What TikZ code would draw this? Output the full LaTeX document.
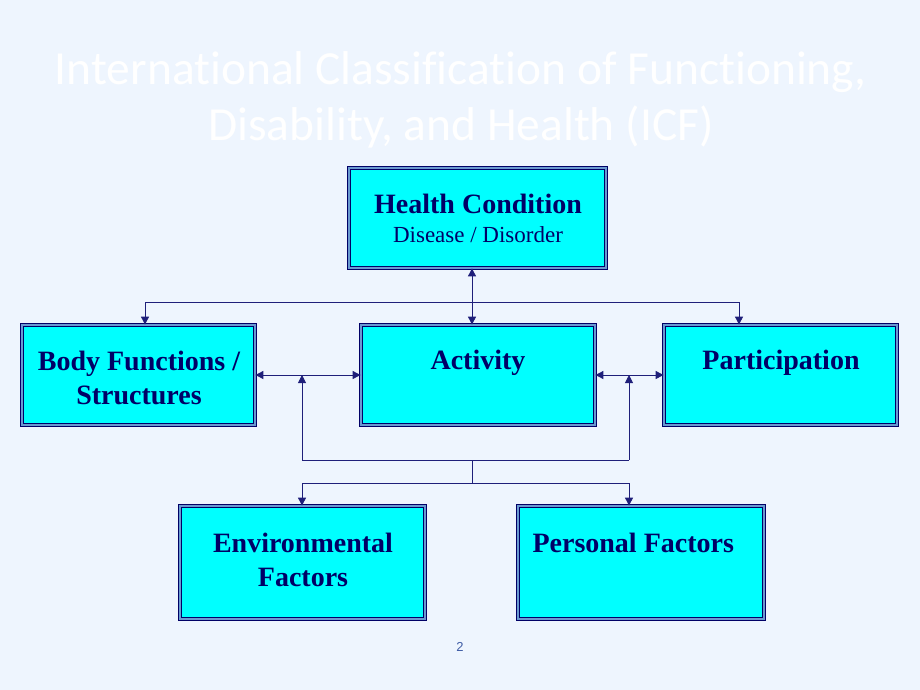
\documentclass[tikz,border=0pt]{standalone}
\usepackage{fontspec}
\setmainfont{Liberation Serif}
\newfontfamily\titlefont[Ligatures=NoCommon]{Carlito}
\newfontfamily\pagefont{Liberation Sans}
\usetikzlibrary{arrows.meta}

\definecolor{slidebg}{HTML}{EEF5FE}
\definecolor{boxfill}{HTML}{00FFFF}
\definecolor{navy}{HTML}{000066}
\definecolor{wire}{HTML}{1F1F7A}
\definecolor{rim}{HTML}{6A9AD0}

\tikzset{
  icfbox/.style={draw=navy, line width=0.8pt, double=rim, double distance=1.6pt,
    fill=boxfill, inner sep=0pt},
  icftext/.style={text=navy, font=\fontsize{28}{34}\selectfont\bfseries, align=center},
  wires/.style={draw=wire, line width=0.9pt},
  >={Triangle[length=8pt,width=8pt]}
}

\begin{document}
\begin{tikzpicture}[x=1pt,y=-1pt]
\useasboundingbox[fill=slidebg] (0,0) rectangle (920,690);

%% title
\node[anchor=base, text=white, font=\titlefont\fontsize{47.5}{56}\selectfont] (title1) at (461,85)
  {International Classification of Functioning,};
\node[anchor=base, text=white, font=\titlefont\fontsize{47.5}{56}\selectfont] (title2) at (461,140)
  {Disability, and Health (ICF)};

%% boxes
\node[icfbox, minimum width=257, minimum height=100] (hc) at (477.5,218) {};
\node[icfbox, minimum width=233, minimum height=100] (body) at (138.5,375) {};
\node[icfbox, minimum width=234, minimum height=100] (act) at (478,375) {};
\node[icfbox, minimum width=233, minimum height=100] (part) at (780.5,375) {};
\node[icfbox, minimum width=245, minimum height=113] (env) at (302.5,562.5) {};
\node[icfbox, minimum width=246, minimum height=113] (pers) at (641,562.5) {};

%% labels
\node[icftext] (hclabel) at (478,204) {Health Condition};
\node[text=navy, font=\fontsize{23}{28}\selectfont] (hcsub) at (478,235) {Disease / Disorder};
\node[icftext] (bodylabel) at (139,378) {Body Functions /\\Structures};
\node[icftext] (actlabel) at (478,363) {Activity};
\node[icftext] (partlabel) at (781,363) {Participation};
\node[icftext] (envlabel) at (303,560) {Environmental\\Factors};
\node[icftext, anchor=west] (perslabel) at (529,543) {Personal Factors};

%% connectors
\coordinate (hcdrop) at (472,302);
\coordinate (leftbus) at (145,302);
\coordinate (rightbus) at (739,302);
\draw[wires, <->] ([xshift=-5.5pt]hc.south) -- ([xshift=-6pt]act.north);
\draw[wires, ->] (hcdrop) -- (leftbus) -- (leftbus |- body.north);
\draw[wires, ->] (hcdrop) -- (rightbus) -- (rightbus |- part.north);

\draw[wires, <->] (body.east) -- (act.west);
\draw[wires, <->] (act.east) -- (part.west);

\coordinate (envup) at (302,460);
\coordinate (persup) at (629,460);
\coordinate (midbus) at (472,460);
\coordinate (lowbus) at (472,483);
\draw[wires, ->] (envup) -- (envup |- body.east);
\draw[wires, ->] (persup) -- (persup |- part.west);
\draw[wires] (envup) -- (persup);
\draw[wires] (midbus) -- (lowbus);
\draw[wires, ->] (lowbus) -| (envup |- env.north);
\draw[wires, ->] (lowbus) -| (persup |- pers.north);

%% page number
\node[text=rim!60!navy, font=\pagefont\fontsize{13}{15}\selectfont] (pagenum) at (460,647) {2};
\end{tikzpicture}
\end{document}
